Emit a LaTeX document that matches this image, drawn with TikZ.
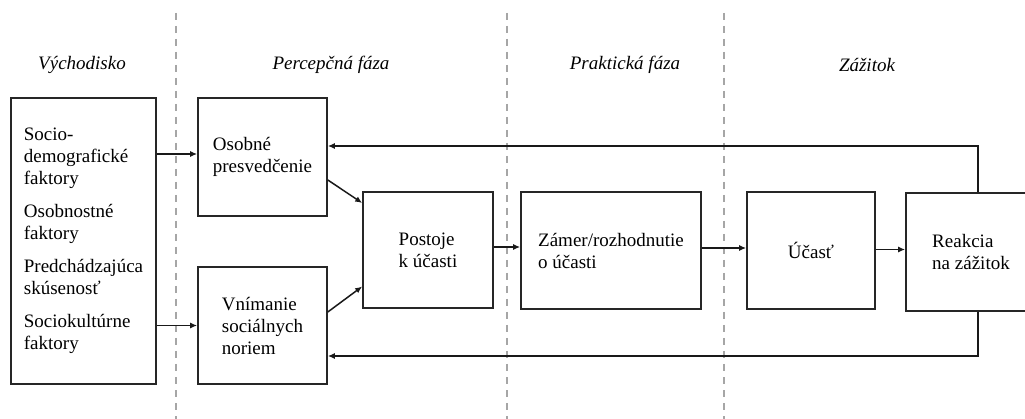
\documentclass[tikz,border=0pt]{standalone}
\usepackage{fontspec}
\setmainfont{Liberation Serif}
\usetikzlibrary{arrows.meta,calc}
\begin{document}
\begin{tikzpicture}[x=1pt,y=-1pt,
  box/.style={draw=black!85,line width=1.6pt,inner sep=0pt,align=left,
    font=\fontsize{19}{22}\selectfont},
  head/.style={font=\fontsize{19}{22}\selectfont\itshape,inner sep=0pt},
  conn/.style={draw=black!90,line width=1.5pt},
  arr/.style={conn,-{Latex[length=7pt,width=6pt]}},
  sep/.style={draw=black!35,line width=1.3pt,dash pattern=on 7pt off 6pt}]
\useasboundingbox (0,0) rectangle (1025,419);
\clip (0,0) rectangle (1025,419);
\fill[white] (0,0) rectangle (1025,419);
% phase separators
\coordinate (s1t) at (176,13); \coordinate (s1b) at (176,419);
\coordinate (s2t) at (507,13); \coordinate (s2b) at (507,419);
\coordinate (s3t) at (724,13); \coordinate (s3b) at (724,419);
\draw[sep] (s1t) -- (s1b);
\draw[sep] (s2t) -- (s2b);
\draw[sep] (s3t) -- (s3b);
% headers
\node[head] (h1) at (82,65) {Východisko};
\node[head] (h2) at (331,65) {Percepčná fáza};
\node[head] (h3) at (625,65) {Praktická fáza};
\node[head] (h4) at (867,65) {Zážitok};
% boxes
\node[box,minimum width=145pt,minimum height=286pt] (vych) at (83.5,241)
  {Socio-\\demografické\\faktory\\[11pt]Osobnostné\\faktory\\[11pt]Predchádzajúca\\skúsenosť\\[11pt]Sociokultúrne\\faktory};
\node[box,minimum width=129pt,minimum height=118pt] (osob) at (262.5,157)
  {Osobné\\presvedčenie};
\node[box,minimum width=129pt,minimum height=117pt] (vnim) at (262.5,325.5)
  {Vnímanie\\sociálnych\\noriem};
\node[box,minimum width=130pt,minimum height=116pt] (post) at (428,250)
  {Postoje\\k účasti};
\node[box,minimum width=180pt,minimum height=117pt] (zamer) at (611,250.5)
  {Zámer/rozhodnutie\\o účasti};
\node[box,minimum width=128pt,minimum height=117pt] (ucast) at (811,250.5)
  {Účasť};
\node[box,minimum width=130pt,minimum height=118pt] (reak) at (971,252)
  {Reakcia\\na zážitok};
% connectors
\draw[arr] ([yshift=3pt]osob.west -| vych.east) -- ([yshift=3pt]osob.west);
\draw[arr] (vnim.west -| vych.east) -- (vnim.west);
\draw[arr] ([yshift=-23pt]osob.east) -- ([yshift=47pt]post.west);
\draw[arr] ([yshift=13.5pt]vnim.east) -- ([yshift=-36.5pt]post.west);
\draw[arr] ([yshift=3pt]post.east) -- ([yshift=3pt]post.east -| zamer.west);
\draw[arr] ([yshift=2.5pt]zamer.east) -- ([yshift=2.5pt]zamer.east -| ucast.west);
\draw[arr] ([yshift=1pt]ucast.east) -- ([yshift=1pt]ucast.east -| reak.west);
\coordinate (fbt) at (978,146);
\coordinate (fbb) at (978,356);
\draw[arr] (reak.north -| fbt) -- (fbt) -- (fbt -| osob.east);
\draw[arr] (reak.south -| fbb) -- (fbb) -- (fbb -| vnim.east);
\end{tikzpicture}
\end{document}
